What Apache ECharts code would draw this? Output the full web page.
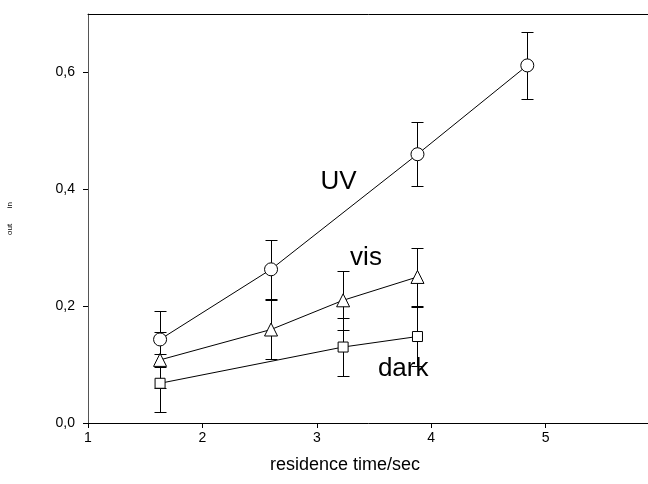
<!DOCTYPE html>
<html>
<head>
<meta charset="utf-8">
<script src="https://cdn.jsdelivr.net/npm/echarts@6/dist/echarts.min.js"></script>
<style>
  html, body { margin: 0; padding: 0; background: #fff; }
  #main { width: 648px; height: 484px; }
</style>
</head>
<body>
<div id="main"></div>
<script>
// residence time (s) and ratio values
var uvX = [1.63, 2.6, 3.88, 4.84];
var uvY = [0.143, 0.263, 0.46, 0.612];
var uvErr = [0.048, 0.05, 0.055, 0.057];

var visX = [1.63, 2.6, 3.23, 3.88];
var visY = [0.108, 0.16, 0.21, 0.25];
var visErr = [0.048, 0.05, 0.05, 0.05];

var darkX = [1.63, 3.23, 3.88];
var darkY = [0.068, 0.13, 0.148];
var darkErr = [0.05, 0.05, 0.05];

var xTicks = [1, 2, 3, 4, 5, 6];
var yTicks = [0, 0.2, 0.4, 0.6];

// curve names placed in data space
var curveLabels = [
    {name: 'UV', x: 3.19, y: 0.412},
    {name: 'vis', x: 3.43, y: 0.282},
    {name: 'dark', x: 3.755, y: 0.092}
];

var chart = echarts.init(document.getElementById('main'));

function pairs(xs, ys) {
    return xs.map(function (x, i) { return [x, ys[i]]; });
}
function errs(xs, ys, es) {
    return xs.map(function (x, i) { return [x, ys[i] - es[i], ys[i] + es[i]]; });
}

function renderBar(params, api) {
    var top = api.coord([api.value(0), api.value(2)]);
    var bot = api.coord([api.value(0), api.value(1)]);
    var x = Math.round(top[0]) + 0.5;
    var y1 = Math.round(top[1]) + 0.5, y2 = Math.round(bot[1]) + 0.5;
    var w = 6;
    var st = {stroke: '#000', lineWidth: 1};
    return {type: 'group', children: [
        {type: 'line', shape: {x1: x, y1: y1, x2: x, y2: y2}, style: st},
        {type: 'line', shape: {x1: x - w, y1: y1, x2: x + w, y2: y1}, style: st},
        {type: 'line', shape: {x1: x - w, y1: y2, x2: x + w, y2: y2}, style: st}
    ]};
}

function lineSeries(name, data, symbol, size) {
    return {
        name: name, type: 'line', data: data, z: 3,
        symbol: symbol, symbolSize: size, showSymbol: true,
        lineStyle: {color: '#000', width: 1},
        itemStyle: {color: '#fff', borderColor: '#000', borderWidth: 1},
        emphasis: {disabled: true}
    };
}
function barSeries(data) {
    return {type: 'custom', renderItem: renderBar, data: data, z: 1,
        encode: {x: 0, y: [1, 2]}};
}

var font = 'Liberation Sans, Arial, sans-serif';

var option = {
    animation: false,
    backgroundColor: '#fff',
    grid: {left: 88, right: -12, top: 14, bottom: 61, outerBoundsMode: 'none', containLabel: false},
    xAxis: [{
        type: 'value', min: 1, max: 6,
        name: 'residence time/sec', nameLocation: 'middle', nameGap: 33,
        nameTextStyle: {color: '#000', fontSize: 18, fontFamily: font, padding: [0, 58, 0, 0]},
        axisLine: {lineStyle: {color: '#000', width: 1}},
        axisTick: {show: true, inside: false, length: 5, lineStyle: {color: '#000'}, customValues: xTicks},
        axisLabel: {color: '#000', fontSize: 14, fontFamily: font, margin: 8, customValues: xTicks},
        splitLine: {show: false}
    }, {
        type: 'value', min: 1, max: 6, position: 'top',
        axisLine: {show: true, lineStyle: {color: '#000', width: 1}},
        axisTick: {show: false}, axisLabel: {show: false}, splitLine: {show: false}
    }],
    yAxis: {
        type: 'value', min: 0, max: 0.7,
        name: 'out       in', nameLocation: 'middle', nameGap: 74, nameRotate: 90,
        nameTextStyle: {color: '#000', fontSize: 8, fontFamily: font},
        axisLine: {show: true, lineStyle: {color: '#555', width: 1}},
        axisTick: {show: true, length: 5, lineStyle: {color: '#000'}, customValues: yTicks},
        axisLabel: {
            color: '#000', fontSize: 14, fontFamily: font, margin: 13, customValues: yTicks,
            formatter: function (v) { return v.toFixed(1).replace('.', ','); }
        },
        splitLine: {show: false}
    },
    series: [
        barSeries(errs(uvX, uvY, uvErr)),
        barSeries(errs(visX, visY, visErr)),
        barSeries(errs(darkX, darkY, darkErr)),
        lineSeries('UV', pairs(uvX, uvY), 'circle', 13),
        lineSeries('vis', pairs(visX, visY), 'triangle', 13),
        lineSeries('dark', pairs(darkX, darkY), 'rect', 10),
        {
            type: 'scatter', symbolSize: 1, z: 4, itemStyle: {opacity: 0},
            emphasis: {disabled: true},
            data: curveLabels.map(function (d) { return {name: d.name, value: [d.x, d.y]}; }),
            label: {show: true, position: 'inside', formatter: '{b}', color: '#000',
                textBorderWidth: 0, opacity: 1, fontSize: 26, fontFamily: font}
        }
    ]
};

chart.setOption(option);
</script>
</body>
</html>
